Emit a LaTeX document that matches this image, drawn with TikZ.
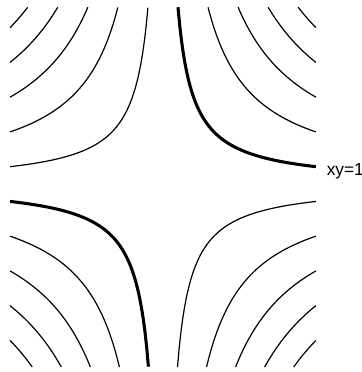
\documentclass[tikz,border=0pt]{standalone}
\usepackage{fontspec}
\setsansfont{Liberation Sans}
\usetikzlibrary{positioning}

\begin{document}
\begin{tikzpicture}[x=1.26cm,y=1.466cm,
  hip/.style={line width=.9pt,samples=80},
  hipgrossa/.style={line width=2.3pt,samples=80}]
\useasboundingbox (-3.41,-3.38) rectangle (4.163,3.31);
\def\xm{3.2}\def\yt{3.18}\def\yb{3.29}
% xy = c e xy = -c
\foreach \c in {1,3,5,7,9}{
  \pgfmathsetmacro{\at}{\c/\yt}
  \pgfmathsetmacro{\ab}{\c/\yb}
  \draw[hip] plot[domain=-\xm:-\at] (\x,{-\c/\x});
  \draw[hip] plot[domain=\ab:\xm] (\x,{-\c/\x});
}
\foreach \c in {3,5,7,9}{
  \pgfmathsetmacro{\at}{\c/\yt}
  \pgfmathsetmacro{\ab}{\c/\yb}
  \draw[hip] plot[domain=\at:\xm] (\x,{\c/\x});
  \draw[hip] plot[domain=-\xm:-\ab] (\x,{\c/\x});
}
% xy = 1
\draw[hipgrossa] plot[domain=1/\yt:\xm] (\x,{1/\x}) coordinate (fim);
\draw[hipgrossa] plot[domain=-\xm:-1/\yb] (\x,{1/\x});
\node[anchor=west,xshift=7pt,yshift=-3.5pt,font=\sffamily\fontsize{13}{15}\selectfont,inner sep=1pt] (rotulo) at (fim) {xy=1};
\end{tikzpicture}
\end{document}
